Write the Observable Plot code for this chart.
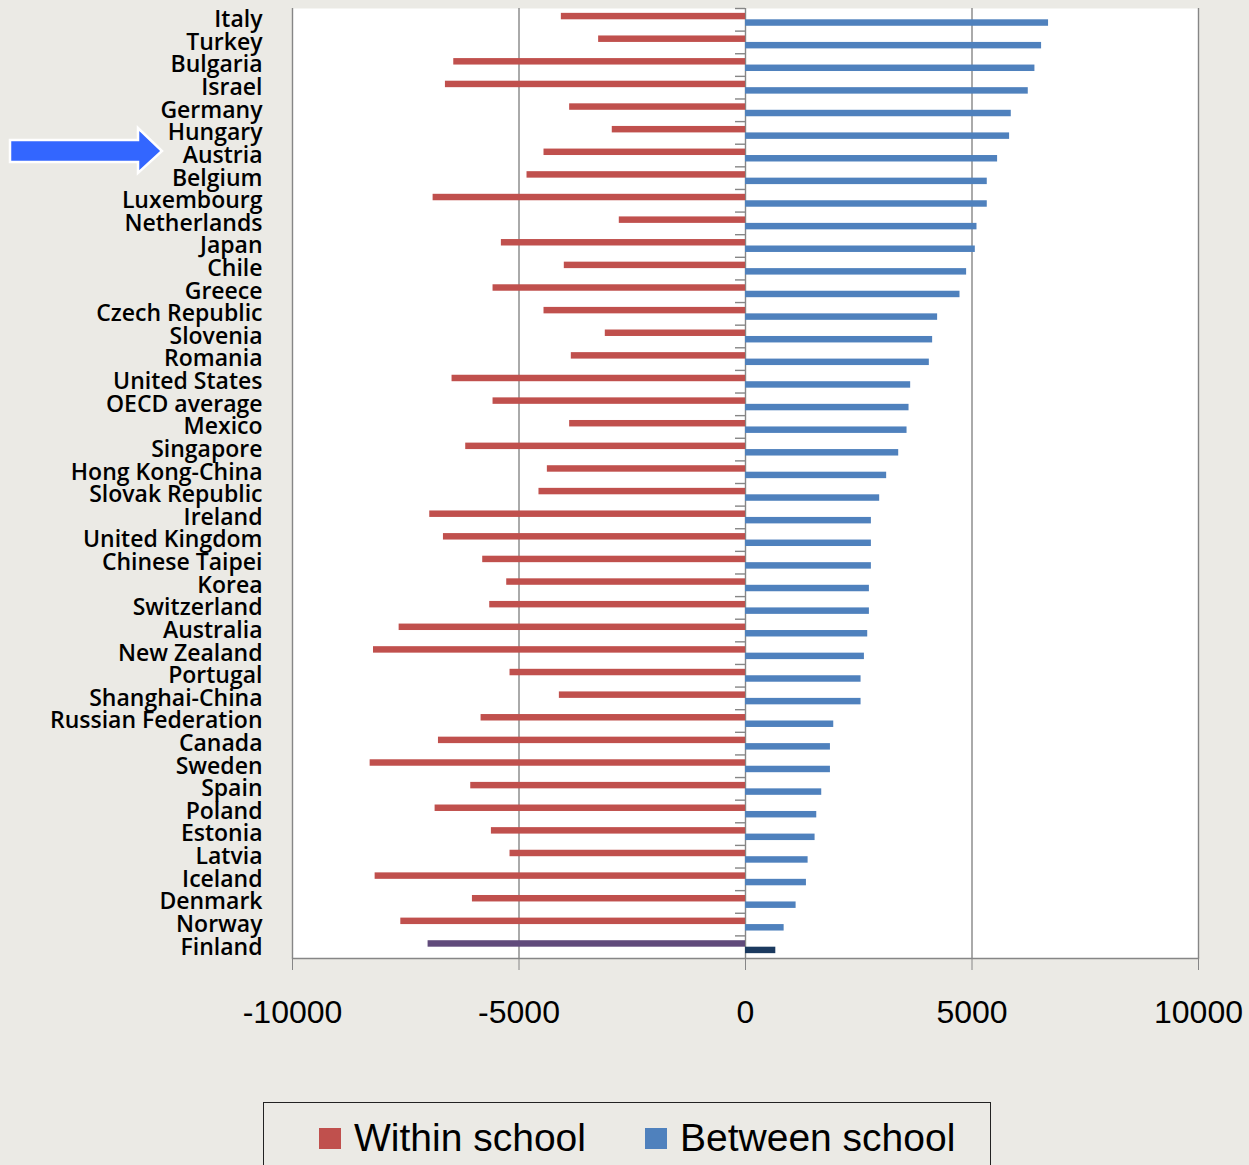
<!DOCTYPE html>
<html>
<head>
<meta charset="utf-8">
<script src="https://cdn.jsdelivr.net/npm/d3@7"></script>
<script src="https://cdn.jsdelivr.net/npm/@observablehq/plot@0.6"></script>
<style>
  html, body { margin: 0; padding: 0; background: #EBEAE5; }
  #wrap { position: relative; width: 1249px; height: 1165px; overflow: hidden; }
  #legend {
    position: absolute; left: 263px; top: 1102px; width: 728px; height: 90px;
    border: 1.5px solid #222; box-sizing: border-box;
    font-family: "Liberation Sans", Arial, sans-serif; font-size: 39px; color: #000;
  }
  .item { position: absolute; top: 13px; display: flex; align-items: center; }
  .sw { width: 22px; height: 21px; margin-right: 13px; }
</style>
</head>
<body>
<div id="wrap"><div id="chart"></div>
  <div id="legend">
    <div class="item" style="left:55px"><div class="sw" style="background:#C0504D"></div><span>Within school</span></div>
    <div class="item" style="left:381px"><div class="sw" style="background:#4F81BD"></div><span>Between school</span></div>
  </div>
</div>
<script>
const countries = ["Italy","Turkey","Bulgaria","Israel","Germany","Hungary","Austria","Belgium","Luxembourg","Netherlands","Japan","Chile","Greece","Czech Republic","Slovenia","Romania","United States","OECD average","Mexico","Singapore","Hong Kong-China","Slovak Republic","Ireland","United Kingdom","Chinese Taipei","Korea","Switzerland","Australia","New Zealand","Portugal","Shanghai-China","Russian Federation","Canada","Sweden","Spain","Poland","Estonia","Latvia","Iceland","Denmark","Norway","Finland"];
const withinSchool = [-4065,-3242,-6440,-6624,-3882,-2941,-4448,-4823,-6896,-2786,-5389,-4000,-5573,-4448,-3095,-3845,-6478,-5573,-3882,-6176,-4374,-4559,-6970,-6668,-5801,-5271,-5646,-7646,-8212,-5198,-4109,-5837,-6778,-8286,-6065,-6852,-5609,-5198,-8176,-6028,-7609,-7007];
const betweenSchool = [6690,6536,6389,6242,5867,5830,5565,5337,5337,5110,5073,4881,4735,4241,4131,4058,3646,3610,3566,3382,3116,2962,2779,2779,2779,2735,2735,2698,2625,2551,2551,1948,1875,1875,1683,1573,1536,1382,1345,1117,853,669];
const xTicks = [-10000,-5000,0,5000,10000];
const highlight = "Finland";
const arrowTarget = "Austria";

const rows = countries.map((c, i) => ({country: c, within: withinSchool[i], between: betweenSchool[i]}));

const W = 1249, H = 1100, mT = 8, mB = 142, mL = 292, mR = 51;
const bw = (H - mT - mB) / countries.length;
const s = bw / 3.5;                       // bar thickness (Excel gap width 150%)
const tickUnits = 10 / ((W - mL - mR) / (xTicks[4] - xTicks[0]));

const arrow = (index, scales) => {
  const y = scales.y;
  const band = typeof y.bandwidth === "function" ? y.bandwidth() : bw;
  const yc = y(arrowTarget) + band / 2 - 4;
  const p = d3.path();
  p.moveTo(10, yc - 11); p.lineTo(138, yc - 11); p.lineTo(138, yc - 23);
  p.lineTo(162, yc); p.lineTo(138, yc + 22); p.lineTo(138, yc + 11); p.lineTo(10, yc + 11); p.closePath();
  const g = d3.create("svg:path").attr("d", p.toString())
    .attr("fill", "#3366FF").attr("stroke", "white").attr("stroke-width", 2.5);
  return g.node();
};

const chart = Plot.plot({
  width: W, height: H,
  marginTop: mT, marginBottom: mB, marginLeft: mL, marginRight: mR,
  style: {background: "transparent", fontFamily: "Liberation Sans, Arial, sans-serif"},
  x: {domain: [xTicks[0], xTicks[4]], label: null},
  y: {domain: countries, padding: 0, round: false, label: null},
  marks: [
    Plot.frame({fill: "white", stroke: null}),
    Plot.ruleX(xTicks, {stroke: "#868686", strokeWidth: 1.4}),
    Plot.frame({anchor: "bottom", stroke: "#868686", strokeWidth: 1.4}),
    Plot.ruleY(countries, {y: d => d, x1: -tickUnits, x2: 0, dy: -bw / 2, stroke: "#868686", strokeWidth: 1.4}),
    Plot.barX(rows, {y: "country", x1: 0, x2: "within",
      fill: d => d.country === highlight ? "#604A7B" : "#C0504D",
      insetTop: 0.75 * s, insetBottom: 1.75 * s}),
    Plot.barX(rows, {y: "country", x1: 0, x2: "between",
      fill: d => d.country === highlight ? "#1B3A5F" : "#4F81BD",
      insetTop: 1.75 * s, insetBottom: 0.75 * s}),
    Plot.axisX({ticks: xTicks, tickSize: 12, tickPadding: 30, fontSize: 32, stroke: "#868686", fill: "#000", label: null, tickFormat: d => String(d)}),
    Plot.axisY({tickSize: 0, tickPadding: 30, fontSize: 23, fontWeight: 600, fontFamily: "Open Sans", fill: "#000", label: null, style: "letter-spacing:0.9px"}),
    arrow
  ]
});
document.getElementById("chart").appendChild(chart);
</script>
</body>
</html>
